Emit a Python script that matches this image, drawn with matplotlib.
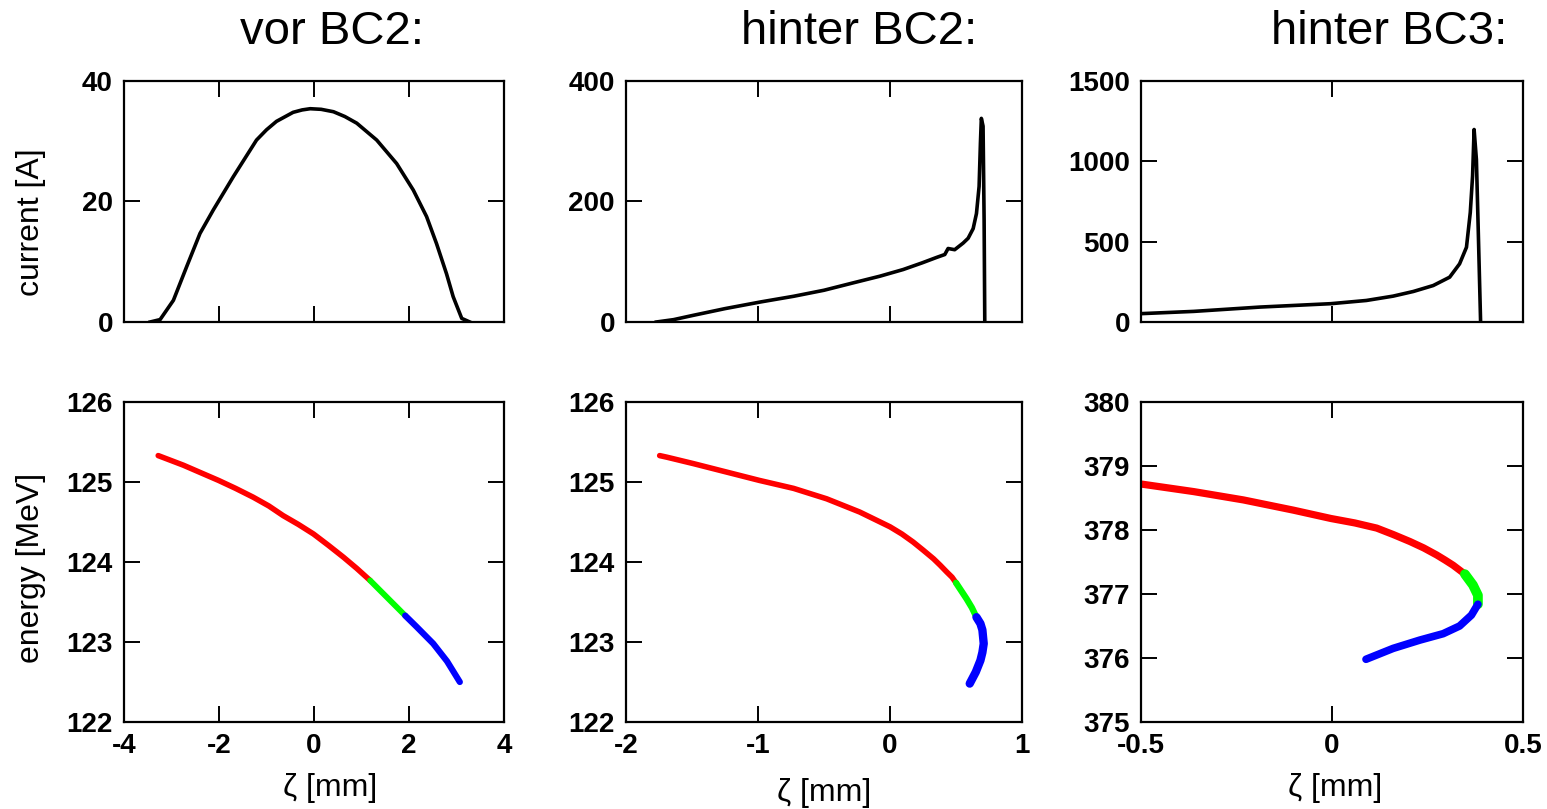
import matplotlib
matplotlib.use("Agg")
import matplotlib.pyplot as plt

plt.rcParams['font.family'] = ['Liberation Sans', 'DejaVu Sans']

# current profiles (zeta in mm, current in A)
z1_cur = [-3.45, -3.24, -2.96, -2.68, -2.40, -2.12, -1.70, -1.21, -1.00, -0.79, -0.44, -0.25,
          -0.08, 0.15, 0.41, 0.65, 0.90, 1.32, 1.74, 2.09, 2.37, 2.58, 2.79, 2.93, 3.11, 3.28]
i1_cur = [0, 0.4, 3.6, 9.2, 14.7, 18.6, 24.1, 30.2, 31.9, 33.3, 34.8, 35.2,
          35.4, 35.3, 34.9, 34.1, 33.0, 30.2, 26.3, 21.9, 17.5, 13.0, 8.0, 4.2, 0.6, 0]

z2_cur = [-1.77, -1.64, -1.49, -1.25, -0.98, -0.73, -0.50, -0.28, -0.077, 0.10, 0.244,
          0.352, 0.415, 0.44, 0.49, 0.554, 0.592, 0.63, 0.655, 0.675, 0.685, 0.692,
          0.705, 0.713, 0.718]
i2_cur = [0, 3.9, 11.1, 22.2, 33.3, 42.7, 52.7, 64.9, 76.0, 87.1, 98.2,
          107.1, 112, 122, 120, 131, 139, 155, 180, 225, 297, 338,
          325, 169, 0]

z3_cur = [-0.5, -0.362, -0.188, -0.003, 0.09, 0.16, 0.213, 0.265, 0.308, 0.334, 0.352,
          0.362, 0.368, 0.372, 0.378, 0.383, 0.389]
i3_cur = [52, 66, 93, 114, 134, 161, 190, 227, 279, 362, 465,
          682, 909, 1198, 1012, 558, 0]

# longitudinal phase space (zeta in mm, energy in MeV), split in red/green/blue slices
z1_red = [-3.28, -2.75, -2.40, -2.01, -1.65, -1.28, -0.95, -0.65, -0.33, -0.01, 0.30, 0.62, 0.90, 1.18]
e1_red = [125.33, 125.21, 125.12, 125.02, 124.92, 124.81, 124.70, 124.58, 124.47, 124.35,
          124.21, 124.06, 123.92, 123.77]
z1_grn = [1.18, 1.55, 1.92]
e1_grn = [123.77, 123.55, 123.33]
z1_blu = [1.92, 2.16, 2.51, 2.80, 3.07]
e1_blu = [123.33, 123.19, 122.98, 122.76, 122.50]

z2_red = [-1.745, -1.69, -1.49, -1.24, -0.99, -0.73, -0.48, -0.23, 0.0, 0.09, 0.175, 0.25,
          0.33, 0.38, 0.43, 0.47, 0.50]
e2_red = [125.33, 125.31, 125.23, 125.125, 125.02, 124.92, 124.79, 124.625, 124.44, 124.35,
          124.25, 124.15, 124.04, 123.96, 123.875, 123.81, 123.74]
z2_grn = [0.50, 0.54, 0.58, 0.62, 0.655]
e2_grn = [123.74, 123.64, 123.54, 123.43, 123.31]
z2_blu = [0.655, 0.685, 0.70, 0.71, 0.70, 0.685, 0.65, 0.604]
e2_blu = [123.31, 123.23, 123.15, 122.98, 122.87, 122.77, 122.625, 122.48]

z3_red = [-0.497, -0.362, -0.232, -0.101, -0.003, 0.06, 0.117, 0.16, 0.204, 0.24, 0.274,
          0.296, 0.317, 0.348]
e3_red = [378.716, 378.60, 378.47, 378.31, 378.18, 378.11, 378.03, 377.93, 377.82, 377.72,
          377.61, 377.53, 377.45, 377.31]
z3_grn = [0.348, 0.369, 0.382, 0.382]
e3_grn = [377.31, 377.14, 376.98, 376.84]
z3_blu = [0.382, 0.365, 0.334, 0.291, 0.23, 0.16, 0.089]
e3_blu = [376.84, 376.67, 376.50, 376.38, 376.28, 376.15, 375.98]

titles = ["vor BC2:", "hinter BC2:", "hinter BC3:"]
title_x = [332, 859, 1389]

W, H = 1547, 809
fig = plt.figure(figsize=(W / 100, H / 100), dpi=100)

cols = [(124, 380), (626, 396), (1141, 382)]
top_rows = (81, 322)
bot_rows = (402, 722)

def make_ax(col, rows):
    l, w = cols[col]
    t, b = rows
    return fig.add_axes([l / W, 1 - b / H, w / W, (b - t) / H])

def style(ax):
    for s in ax.spines.values():
        s.set_linewidth(1.6)
    ax.tick_params(direction='in', length=11.5, width=1.4, top=True, right=True,
                   labelsize=20, pad=8)
    for lab in ax.get_xticklabels() + ax.get_yticklabels():
        lab.set_fontweight('bold')

cur_data = [(z1_cur, i1_cur), (z2_cur, i2_cur), (z3_cur, i3_cur)]
xlims = [(-4, 4), (-2, 1), (-0.5, 0.5)]
xticks = [[-4, -2, 0, 2, 4], [-2, -1, 0, 1], [-0.5, 0, 0.5]]
xticklabels = [["-4", "-2", "0", "2", "4"], ["-2", "-1", "0", "1"], ["-0.5", "0", "0.5"]]
cur_ylims = [(0, 40), (0, 400), (0, 1500)]
cur_yticks = [[0, 20, 40], [0, 200, 400], [0, 500, 1000, 1500]]

ps_data = [
    [(z1_red, e1_red), (z1_grn, e1_grn), (z1_blu, e1_blu)],
    [(z2_red, e2_red), (z2_grn, e2_grn), (z2_blu, e2_blu)],
    [(z3_red, e3_red), (z3_grn, e3_grn), (z3_blu, e3_blu)],
]
ps_lw = [[4.0, 4.2, 4.5], [4.0, 4.6, 6.0], [5.2, 7.0, 5.5]]
ps_ylims = [(122, 126), (122, 126), (375, 380)]
ps_colors = ['#ff0000', '#00ff00', '#0000ff']
xlab_x = [0.542, 0.5, 0.508]
xlab_y = [-0.16, -0.175, -0.16]

for c in range(3):
    ax = make_ax(c, top_rows)
    ax.plot(cur_data[c][0], cur_data[c][1], color='black', lw=2.6,
            solid_joinstyle='round')
    ax.set_xlim(*xlims[c])
    ax.set_ylim(*cur_ylims[c])
    ax.set_xticks(xticks[c])
    ax.set_xticklabels([])
    ax.set_yticks(cur_yticks[c])
    ax.set_yticklabels([str(v) for v in cur_yticks[c]])
    style(ax)
    if c == 0:
        ax.set_ylabel("current [A]", fontsize=23)
        ax.yaxis.set_label_coords(-0.205, 0.415)

    ax2 = make_ax(c, bot_rows)
    for (zz, ee), col, lw in zip(ps_data[c], ps_colors, ps_lw[c]):
        ax2.plot(zz, ee, color=col, lw=lw, solid_capstyle='round', solid_joinstyle='round')
    ax2.set_xlim(*xlims[c])
    ax2.set_ylim(*ps_ylims[c])
    ax2.set_xticks(xticks[c])
    ax2.set_xticklabels(xticklabels[c])
    yt = list(range(ps_ylims[c][0], ps_ylims[c][1] + 1))
    ax2.set_yticks(yt)
    ax2.set_yticklabels([str(v) for v in yt])
    style(ax2)
    ax2.set_xlabel("ζ [mm]", fontsize=23)
    ax2.xaxis.set_label_coords(xlab_x[c], xlab_y[c])
    if c == 0:
        ax2.set_ylabel("energy [MeV]", fontsize=23)
        ax2.yaxis.set_label_coords(-0.205, 0.48)

    fig.text(title_x[c] / W, 1 - 44 / H, titles[c], fontsize=34, ha='center', va='baseline')

fig.savefig("out.png", dpi=100)
